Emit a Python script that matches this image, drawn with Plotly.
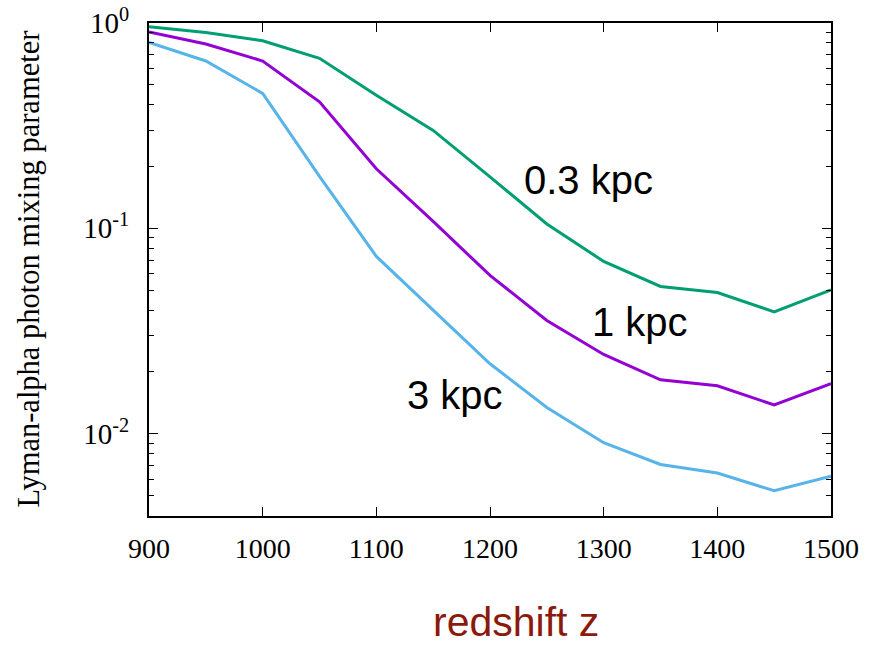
import math
import plotly.graph_objects as go

# redshift grid and mixing parameter for three smoothing scales
redshift = [900, 950, 1000, 1050, 1100, 1150, 1200, 1250, 1300, 1350, 1400, 1450, 1500]
mix_03kpc = [0.96, 0.90, 0.82, 0.673, 0.445, 0.30, 0.178, 0.105, 0.069, 0.0521, 0.0487, 0.0392, 0.0502]
mix_1kpc = [0.904, 0.79, 0.653, 0.413, 0.195, 0.108, 0.059, 0.0356, 0.0243, 0.0183, 0.0171, 0.0138, 0.0175]
mix_3kpc = [0.805, 0.653, 0.454, 0.179, 0.073, 0.0398, 0.0219, 0.0134, 0.00904, 0.00708, 0.00643, 0.00527, 0.00621]

series_names = ["0.3 kpc", "1 kpc", "3 kpc"]
series_colors = ["#009e73", "#9400d3", "#56b4e9"]
# label anchor points (redshift, value) for the in-plot curve labels
label_pos = [(1287, 0.171), (1332, 0.0348), (1169, 0.0155)]

x_ticks = [900, 1000, 1100, 1200, 1300, 1400, 1500]
y_ticks = [1, 0.1, 0.01]
y_ticktext = ["10<sup>0</sup>", "10<sup>-1</sup>", "10<sup>-2</sup>"]
y_minor = [m * 10.0 ** e for e in (-3, -2, -1) for m in range(2, 10)]

fig = go.Figure()
for name, color, vals in zip(series_names, series_colors, [mix_03kpc, mix_1kpc, mix_3kpc]):
    fig.add_trace(go.Scatter(x=redshift, y=vals, mode="lines", name=name,
                             line=dict(color=color, width=3)))

for name, (lx, ly) in zip(series_names, label_pos):
    fig.add_annotation(x=lx, y=math.log10(ly), xref="x", yref="y", text=name,
                       xanchor="center", yanchor="middle", showarrow=False,
                       font=dict(family="Liberation Sans, Arial", size=40, color="black"))

serif = "Liberation Serif, Times New Roman, serif"
fig.add_annotation(x=-0.1774, y=0.5, xref="paper", yref="paper", text="Lyman-alpha photon mixing parameter",
                   xanchor="center", yanchor="middle", textangle=-90, showarrow=False,
                   font=dict(family=serif, size=30.5, color="black"))
fig.add_annotation(x=0.538, y=-0.2657, xref="paper", yref="paper", text="redshift z",
                   xanchor="center", yanchor="bottom", showarrow=False,
                   font=dict(family="Liberation Sans, Arial", size=41, color="#8b1a0c"))

fig.update_layout(
    width=878, height=648,
    margin=dict(l=149, r=47, t=23, b=132, autoexpand=False),
    paper_bgcolor="white", plot_bgcolor="white",
    showlegend=False,
)
fig.update_xaxes(
    range=[900, 1500], tickvals=x_ticks, ticks="inside", ticklen=9, tickwidth=1.2, tickcolor="black",
    showline=True, linecolor="black", linewidth=2, mirror="ticks", showgrid=False, zeroline=False,
    tickfont=dict(family=serif, size=28, color="black"), ticklabelstandoff=6, automargin=False,
)
fig.update_yaxes(
    type="log", range=[-2.401, 0], tickvals=y_ticks, ticktext=y_ticktext,
    ticks="inside", ticklen=9, tickwidth=1.2, tickcolor="black",
    minor=dict(tickvals=y_minor, ticks="inside", ticklen=5, tickcolor="black", tickwidth=1.2, showgrid=False),
    showline=True, linecolor="black", linewidth=2, mirror="ticks", showgrid=False, zeroline=False,
    tickfont=dict(family=serif, size=29, color="black"), ticklabelstandoff=12, automargin=False,
)

fig.write_html("out.html")
